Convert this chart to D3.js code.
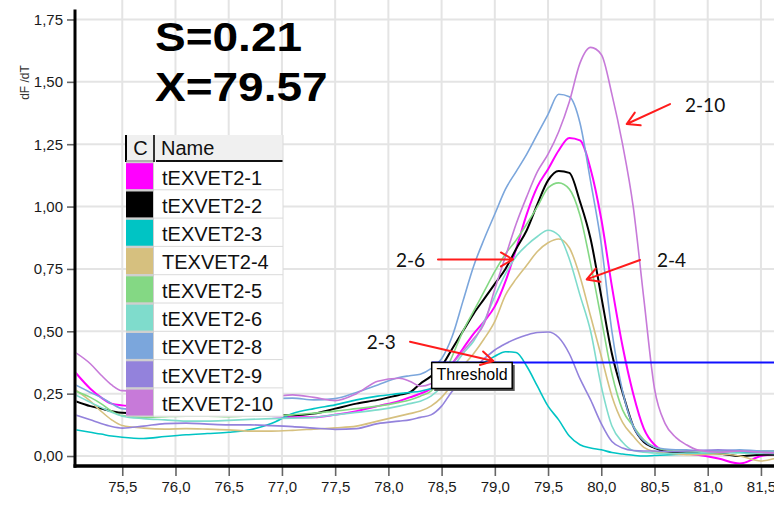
<!DOCTYPE html>
<html>
<head>
<meta charset="utf-8">
<script src="https://cdn.jsdelivr.net/npm/d3@7/dist/d3.min.js"></script>
<style>
  html, body { margin: 0; padding: 0; background: #fff; }
  svg { display: block; }
</style>
</head>
<body>
<svg id="chart" width="774" height="513"></svg>
<script>
// Melt curve derivative (dF/dT) per sample, shared temperature grid (°C)
const temps = [75.06, 75.2, 75.3, 75.4, 75.5, 75.7, 75.9, 76.1, 76.3, 76.5, 76.7, 76.9, 77.1, 77.3, 77.5, 77.7, 77.9,
  78.1, 78.2, 78.3, 78.4, 78.5, 78.6, 78.7, 78.8, 78.9, 79.0, 79.1, 79.2, 79.3, 79.4, 79.5, 79.6, 79.7, 79.8, 79.9,
  80.0, 80.1, 80.2, 80.3, 80.4, 80.5, 80.6, 80.7, 80.8, 80.9, 81.1, 81.3, 81.5, 81.7];

const tEXVET2_1 = [0.335, 0.27, 0.235, 0.21, 0.203, 0.195, 0.185, 0.18, 0.175, 0.17, 0.165, 0.16, 0.155, 0.155, 0.165, 0.18, 0.2,
  0.22, 0.235, 0.25, 0.27, 0.31, 0.37, 0.43, 0.49, 0.54, 0.6, 0.7, 0.83, 0.97, 1.08, 1.15, 1.225, 1.275, 1.265, 1.15,
  0.95, 0.68, 0.44, 0.25, 0.11, 0.045, 0.02, 0.015, 0.01, 0.005, -0.01, -0.03, 0.0, 0.01];

const tEXVET2_2 = [0.22, 0.2, 0.19, 0.18, 0.173, 0.17, 0.17, 0.168, 0.168, 0.166, 0.165, 0.165, 0.163, 0.17, 0.19, 0.21, 0.225,
  0.245, 0.255, 0.29, 0.32, 0.36, 0.43, 0.5, 0.57, 0.63, 0.69, 0.75, 0.83, 0.905, 1.01, 1.105, 1.143, 1.135, 1.02, 0.87,
  0.64, 0.41, 0.255, 0.12, 0.056, 0.033, 0.018, 0.015, 0.015, 0.012, 0.01, 0.0, 0.005, 0.005];

const tEXVET2_3 = [0.105, 0.095, 0.088, 0.08, 0.075, 0.07, 0.078, 0.085, 0.09, 0.095, 0.105, 0.13, 0.17, 0.19, 0.205, 0.225, 0.24,
  0.25, 0.255, 0.26, 0.27, 0.28, 0.3, 0.32, 0.35, 0.375, 0.4, 0.418, 0.415, 0.36, 0.28, 0.2, 0.145, 0.08, 0.045, 0.032,
  0.025, 0.014, 0.008, 0.003, 0.0, 0.002, 0.004, 0.006, 0.008, 0.01, 0.012, 0.015, 0.012, 0.01];

const TEXVET2_4 = [0.265, 0.22, 0.18, 0.145, 0.122, 0.112, 0.108, 0.11, 0.108, 0.105, 0.1, 0.1, 0.103, 0.108, 0.113, 0.12, 0.14,
  0.16, 0.17, 0.18, 0.2, 0.235, 0.29, 0.36, 0.41, 0.47, 0.54, 0.645, 0.71, 0.765, 0.82, 0.855, 0.87, 0.835, 0.72, 0.56,
  0.4, 0.24, 0.135, 0.08, 0.035, 0.018, 0.012, 0.008, 0.005, 0.005, 0.008, 0.0, -0.02, 0.0];

const tEXVET2_5 = [0.26, 0.235, 0.21, 0.18, 0.162, 0.155, 0.158, 0.16, 0.16, 0.158, 0.16, 0.162, 0.165, 0.172, 0.18, 0.19, 0.2,
  0.215, 0.225, 0.24, 0.26, 0.31, 0.4, 0.5, 0.58, 0.66, 0.74, 0.81, 0.865, 0.93, 1.0, 1.075, 1.095, 1.07, 0.965, 0.77,
  0.55, 0.33, 0.185, 0.12, 0.065, 0.035, 0.025, 0.02, 0.02, 0.02, 0.02, 0.02, 0.02, 0.02];

const tEXVET2_6 = [0.245, 0.215, 0.195, 0.175, 0.16, 0.15, 0.145, 0.14, 0.14, 0.143, 0.147, 0.15, 0.152, 0.155, 0.165, 0.175, 0.185,
  0.2, 0.21, 0.22, 0.24, 0.28, 0.35, 0.41, 0.46, 0.54, 0.64, 0.73, 0.8, 0.845, 0.88, 0.905, 0.885, 0.79, 0.645, 0.5,
  0.28, 0.12, 0.055, 0.022, 0.015, 0.012, 0.01, 0.01, 0.012, 0.012, 0.015, 0.012, 0.01, 0.01];

const tEXVET2_8 = [0.285, 0.255, 0.235, 0.21, 0.19, 0.185, 0.19, 0.2, 0.205, 0.21, 0.22, 0.23, 0.232, 0.225, 0.23, 0.255, 0.285,
  0.315, 0.322, 0.328, 0.35, 0.39, 0.48, 0.62, 0.76, 0.87, 0.97, 1.07, 1.14, 1.21, 1.29, 1.37, 1.45, 1.44, 1.335, 1.1,
  0.85, 0.5, 0.26, 0.12, 0.06, 0.035, 0.028, 0.025, 0.025, 0.022, 0.02, 0.025, 0.02, 0.02];

const tEXVET2_9 = [0.165, 0.145, 0.13, 0.118, 0.112, 0.12, 0.13, 0.132, 0.128, 0.125, 0.125, 0.122, 0.118, 0.112, 0.107, 0.11, 0.13,
  0.14, 0.145, 0.155, 0.165, 0.2, 0.26, 0.3, 0.35, 0.39, 0.425, 0.45, 0.47, 0.485, 0.495, 0.497, 0.475, 0.41, 0.31, 0.225,
  0.13, 0.058, 0.032, 0.022, 0.02, 0.02, 0.018, 0.018, 0.02, 0.022, 0.025, 0.02, 0.015, 0.01];

const tEXVET2_10 = [0.415, 0.37, 0.325, 0.285, 0.262, 0.26, 0.26, 0.255, 0.25, 0.245, 0.24, 0.238, 0.245, 0.235, 0.222, 0.25, 0.3,
  0.312, 0.3, 0.28, 0.29, 0.32, 0.37, 0.42, 0.47, 0.53, 0.67, 0.8, 0.93, 1.04, 1.14, 1.21, 1.3, 1.42, 1.575, 1.638,
  1.61, 1.45, 1.25, 1.0, 0.63, 0.27, 0.13, 0.075, 0.045, 0.025, 0.015, 0.02, 0.015, 0.01];

const sampleNames = ["tEXVET2-1", "tEXVET2-2", "tEXVET2-3", "TEXVET2-4", "tEXVET2-5", "tEXVET2-6", "tEXVET2-8", "tEXVET2-9", "tEXVET2-10"];
const sampleColors = ["#ff00ff", "#000000", "#00c4c4", "#d6c07f", "#84d884", "#7fdccc", "#7ba6dc", "#9382dc", "#c77ad9"];
const sampleValues = [tEXVET2_1, tEXVET2_2, tEXVET2_3, TEXVET2_4, tEXVET2_5, tEXVET2_6, tEXVET2_8, tEXVET2_9, tEXVET2_10];

const xTicks = [75.5, 76.0, 76.5, 77.0, 77.5, 78.0, 78.5, 79.0, 79.5, 80.0, 80.5, 81.0, 81.5];
const yTicks = [0, 0.25, 0.5, 0.75, 1.0, 1.25, 1.5, 1.75];

const threshold = 0.375;
const thresholdStartT = 78.407;

// callouts in data coordinates: label position and arrow from/to
const callouts = [
  { label: "2-10", tx: 80.787, ty: 1.380, x1: 80.646, y1: 1.411, x2: 80.239, y2: 1.331 },
  { label: "2-6",  tx: 78.071, ty: 0.759, x1: 78.466, y1: 0.788, x2: 79.171, y2: 0.788 },
  { label: "2-4",  tx: 80.523, ty: 0.759, x1: 80.364, y1: 0.786, x2: 79.863, y2: 0.708 },
  { label: "2-3",  tx: 77.796, ty: 0.428, x1: 78.203, y1: 0.458, x2: 78.986, y2: 0.381 }
];

const statLines = ["S=0.21", "X=79.57"];

// ---------------------------------------------------------------
const W = 774, H = 513;
const svg = d3.select("#chart");
const FONT = "'Liberation Sans', Arial, sans-serif";

const x = d3.scaleLinear().domain([75.056, 81.68]).range([75, 780.1]);
const y = d3.scaleLinear().domain([-0.04, 1.79]).range([466, 9.5]);

const comma = f => s => d3.format(f)(s).replace(".", ",");

// grid
const grid = svg.append("g").attr("stroke", "#e4e4e4").attr("stroke-width", 2);
grid.selectAll("line.v").data(xTicks).join("line")
  .attr("x1", d => x(d)).attr("x2", d => x(d)).attr("y1", 0).attr("y2", 466);
grid.selectAll("line.h").data(yTicks).join("line")
  .attr("x1", 75).attr("x2", W).attr("y1", d => y(d)).attr("y2", d => y(d));

// clip for curves
svg.append("defs").append("clipPath").attr("id", "plot")
  .append("rect").attr("x", 76.5).attr("y", 0).attr("width", W - 76.5).attr("height", 464);

const line = d3.line()
  .x((d, i) => x(temps[i]))
  .y(d => y(d))
  .curve(d3.curveMonotoneX);

const curves = svg.append("g").attr("clip-path", "url(#plot)").attr("fill", "none");
sampleValues.forEach((vals, k) => {
  curves.append("path")
    .attr("d", line(vals))
    .attr("stroke", sampleColors[k])
    .attr("stroke-width", (k === 0 || k === 1) ? 2 : 1.6)
    .attr("stroke-linejoin", "round");
});

// threshold
svg.append("line")
  .attr("x1", x(thresholdStartT)).attr("x2", W)
  .attr("y1", y(threshold)).attr("y2", y(threshold))
  .attr("stroke", "#1010ff").attr("stroke-width", 2);

// axes
const yAxis = svg.append("g").attr("transform", "translate(75,0)")
  .call(d3.axisLeft(y).tickValues(yTicks).tickSize(8).tickPadding(4).tickFormat(comma(".2f")));
const xAxis = svg.append("g").attr("transform", "translate(0,466)")
  .call(d3.axisBottom(x).tickValues(xTicks).tickSize(10).tickPadding(5).tickFormat(comma(".1f")));
[yAxis, xAxis].forEach(g => {
  g.select(".domain").remove();
  g.selectAll(".tick line").attr("stroke", "#666").attr("stroke-width", 1.6);
  g.selectAll(".tick text").attr("fill", "#1a1a1a").style("font-family", FONT).style("font-size", "15px");
});
svg.append("line").attr("x1", 75).attr("x2", 75).attr("y1", 9.5).attr("y2", 467.7)
  .attr("stroke", "#000").attr("stroke-width", 3);
svg.append("line").attr("x1", 73.5).attr("x2", W).attr("y1", 466).attr("y2", 466)
  .attr("stroke", "#000").attr("stroke-width", 3.5);

svg.append("text")
  .attr("transform", "translate(29,82.5) rotate(-90)")
  .attr("text-anchor", "middle")
  .style("font-family", FONT).style("font-size", "12px").attr("fill", "#333")
  .text("dF /dT");

// summary statistics
statLines.forEach((t, i) => {
  svg.append("text")
    .attr("transform", `translate(155,${51 + i * 50}) scale(1.15,1)`)
    .style("font-family", FONT).style("font-size", "40px").style("font-weight", "bold")
    .attr("fill", "#000")
    .text(t);
});

// legend table
const lg = svg.append("g");
const L = 126, R = 283, HT = 135, HB = 162, rowH = 28.3, swW = 27;
lg.append("rect").attr("x", L).attr("y", HT).attr("width", R - L).attr("height", HB - HT).attr("fill", "#f0f0f0");
lg.append("rect").attr("x", L).attr("y", HB).attr("width", swW + 1).attr("height", rowH * sampleNames.length).attr("fill", "#cfcfcf");
lg.append("rect").attr("x", L + swW + 1).attr("y", HB).attr("width", R - L - swW - 1).attr("height", rowH * sampleNames.length).attr("fill", "#fff");
lg.append("line").attr("x1", L).attr("x2", L).attr("y1", HT).attr("y2", HB).attr("stroke", "#000").attr("stroke-width", 2);
lg.append("line").attr("x1", L + swW + 1).attr("x2", L + swW + 1).attr("y1", HT).attr("y2", HB).attr("stroke", "#333").attr("stroke-width", 2);
lg.append("line").attr("x1", L + swW + 3).attr("x2", R).attr("y1", HB - 1).attr("y2", HB - 1).attr("stroke", "#111").attr("stroke-width", 2);
lg.append("line").attr("x1", L).attr("x2", L + swW).attr("y1", HB - 1).attr("y2", HB - 1).attr("stroke", "#999").attr("stroke-width", 1.5);
lg.append("text").attr("x", L + 14.5).attr("y", 155).attr("text-anchor", "middle")
  .style("font-family", FONT).style("font-size", "20px").attr("fill", "#111").text("C");
lg.append("text").attr("x", 161).attr("y", 155)
  .style("font-family", FONT).style("font-size", "20px").attr("fill", "#111").text("Name");

sampleNames.forEach((name, i) => {
  const top = HB + i * rowH;
  lg.append("rect").attr("x", L).attr("y", top + 1.2).attr("width", swW).attr("height", rowH - 2.4)
    .attr("fill", sampleColors[i]);
  lg.append("line").attr("x1", L + swW + 1).attr("x2", R).attr("y1", top + rowH - 0.5).attr("y2", top + rowH - 0.5)
    .attr("stroke", "#dadada").attr("stroke-width", 1);
  lg.append("text").attr("x", 162).attr("y", top + 22.5)
    .style("font-family", FONT).style("font-size", "20px").attr("fill", "#111").text(name);
});
lg.append("line").attr("x1", R).attr("x2", R).attr("y1", HT).attr("y2", HB + rowH * sampleNames.length)
  .attr("stroke", "#dadada").attr("stroke-width", 1);

// threshold tag
const tx0 = x(thresholdStartT), ty0 = y(threshold);
svg.append("rect").attr("x", tx0 + 2.5).attr("y", ty0 + 2.5).attr("width", 80.5).attr("height", 26).attr("fill", "#555");
svg.append("rect").attr("x", tx0).attr("y", ty0).attr("width", 80.5).attr("height", 26)
  .attr("fill", "#fff").attr("stroke", "#000").attr("stroke-width", 1.5);
svg.append("text").attr("x", tx0 + 4.8).attr("y", ty0 + 17.5)
  .style("font-family", FONT).style("font-size", "16px").attr("fill", "#000").text("Threshold");

// callouts
const ann = svg.append("g");
callouts.forEach(c => {
  const X1 = x(c.x1), Y1 = y(c.y1), X2 = x(c.x2), Y2 = y(c.y2);
  const ang = Math.atan2(Y2 - Y1, X2 - X1);
  const len = 14, spread = Math.PI / 6;
  const p = a => [X2 - len * Math.cos(ang + a), Y2 - len * Math.sin(ang + a)];
  const [ax, ay] = p(spread), [bx, by] = p(-spread);
  ann.append("path")
    .attr("d", `M${X1},${Y1}L${X2},${Y2}M${ax},${ay}L${X2},${Y2}L${bx},${by}`)
    .attr("fill", "none").attr("stroke", "#ff1c1c").attr("stroke-width", 2)
    .attr("stroke-linecap", "round").attr("stroke-linejoin", "round");
  ann.append("text").attr("x", x(c.tx)).attr("y", y(c.ty))
    .style("font-family", "Lato, 'Open Sans', sans-serif").style("font-size", "19px").attr("fill", "#111")
    .text(c.label);
});
</script>
</body>
</html>
